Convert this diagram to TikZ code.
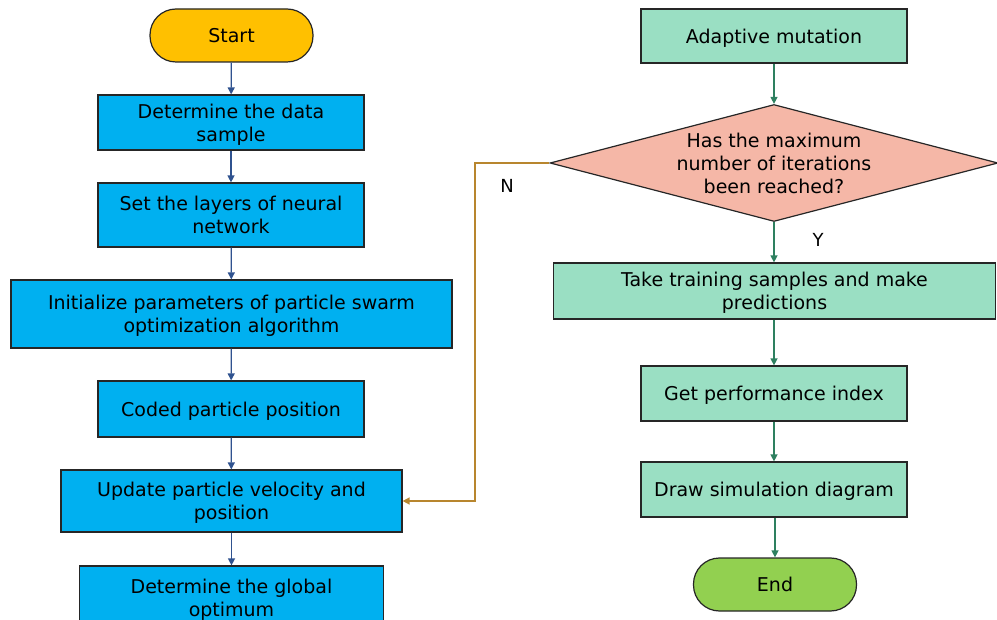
\documentclass[tikz,border=0pt]{standalone}
\usepackage{fontspec}
\setmainfont{DejaVu Sans}
\usetikzlibrary{arrows.meta,shapes.geometric}
\definecolor{startc}{HTML}{FFC000}
\definecolor{bluebox}{HTML}{00B0F0}
\definecolor{greenbox}{HTML}{9ADFC3}
\definecolor{diamc}{HTML}{F5B7A7}
\definecolor{endc}{HTML}{92D050}
\definecolor{bluearr}{HTML}{2F528F}
\definecolor{greenarr}{HTML}{2E8060}
\definecolor{fbarr}{HTML}{B8862E}
\definecolor{edgec}{HTML}{262626}
\tikzset{
  txt/.style={font=\fontsize{19}{23}\selectfont, align=center, text=black, text depth=0pt},
  term/.style={txt, draw=edgec, line width=1.2pt, rounded corners=26pt, minimum width=163pt, minimum height=53pt, inner sep=0pt},
  bbox/.style={txt, draw=edgec, line width=1.2pt, fill=bluebox, minimum height=55pt, inner sep=0pt},
  gbox/.style={txt, draw=edgec, line width=1.2pt, fill=greenbox, minimum height=55pt, inner sep=0pt},
  barr/.style={draw=bluearr, line width=1.3pt, -{Triangle[width=7pt,length=7pt]}},
  garr/.style={draw=greenarr, line width=1.3pt, -{Triangle[width=7pt,length=7pt]}},
  farr/.style={draw=fbarr, line width=1.5pt, -{Triangle[width=7pt,length=7pt]}},
  lbl/.style={font=\fontsize{18}{20}\selectfont, text=black, inner sep=0pt}
}
\begin{document}
\begin{tikzpicture}[x=1pt,y=-1pt]
\useasboundingbox (0,0) rectangle (997,620);
\clip (0,0) rectangle (997,620);
% left column
\node[term, fill=startc] (s) at (231.5,35.5) {Start};
\node[bbox, minimum width=266pt] (b1) at (231,122.5) {Determine the data\\sample};
\node[bbox, minimum width=266pt, minimum height=64pt] (b2) at (231,215) {Set the layers of neural\\network};
\node[bbox, minimum width=441pt, minimum height=68pt] (b3) at (231.5,314) {Initialize parameters of particle swarm\\optimization algorithm};
\node[bbox, minimum width=266pt, minimum height=56pt] (b4) at (231,409) {Coded particle position};
\node[bbox, minimum width=341pt, minimum height=62pt] (b5) at (231.5,501) {Update particle velocity and\\position};
\node[bbox, minimum width=304pt, minimum height=64pt] (b6) at (231.5,598) {Determine the global\\optimum};
\draw[barr] (s) -- (b1);
\draw[barr] (b1) -- (b2);
\draw[barr] (b2) -- (b3);
\draw[barr] (b3) -- (b4);
\draw[barr] (b4) -- (b5);
\draw[barr] (b5) -- (b6);
% right column
\node[gbox, minimum width=266pt, minimum height=54pt] (g1) at (774,36) {Adaptive mutation};
\node[diamond, draw=edgec, line width=1.2pt, fill=diamc, minimum width=448pt, minimum height=117pt, inner sep=0pt] (d) at (774,163) {};
\node[txt] (dt) at (d.center) {Has the maximum\\number of iterations\\been reached?};
\node[gbox, minimum width=442pt, minimum height=56pt] (g2) at (774.5,291) {Take training samples and make\\predictions};
\node[gbox, minimum width=266pt, minimum height=55pt] (g3) at (774,393.5) {Get performance index};
\node[gbox, minimum width=266pt, minimum height=55pt] (g4) at (774,489.5) {Draw simulation diagram};
\node[term, fill=endc] (e) at (775,584.5) {End};
\draw[garr] (g1) -- (d.north);
\draw[garr] (d.south) -- (d.south |- g2.north);
\draw[garr] (g2.south -| g3.north) -- (g3.north);
\draw[garr] (g3) -- (g4);
\draw[garr] (g4.south -| e.north) -- (e.north);
% feedback
\coordinate (fb) at (475,163);
\draw[farr] (d.west) -- (fb) |- (b5.east);
\node[lbl] (n) at (507,186) {N};
\node[lbl] (y) at (818,240) {Y};
\end{tikzpicture}
\end{document}
